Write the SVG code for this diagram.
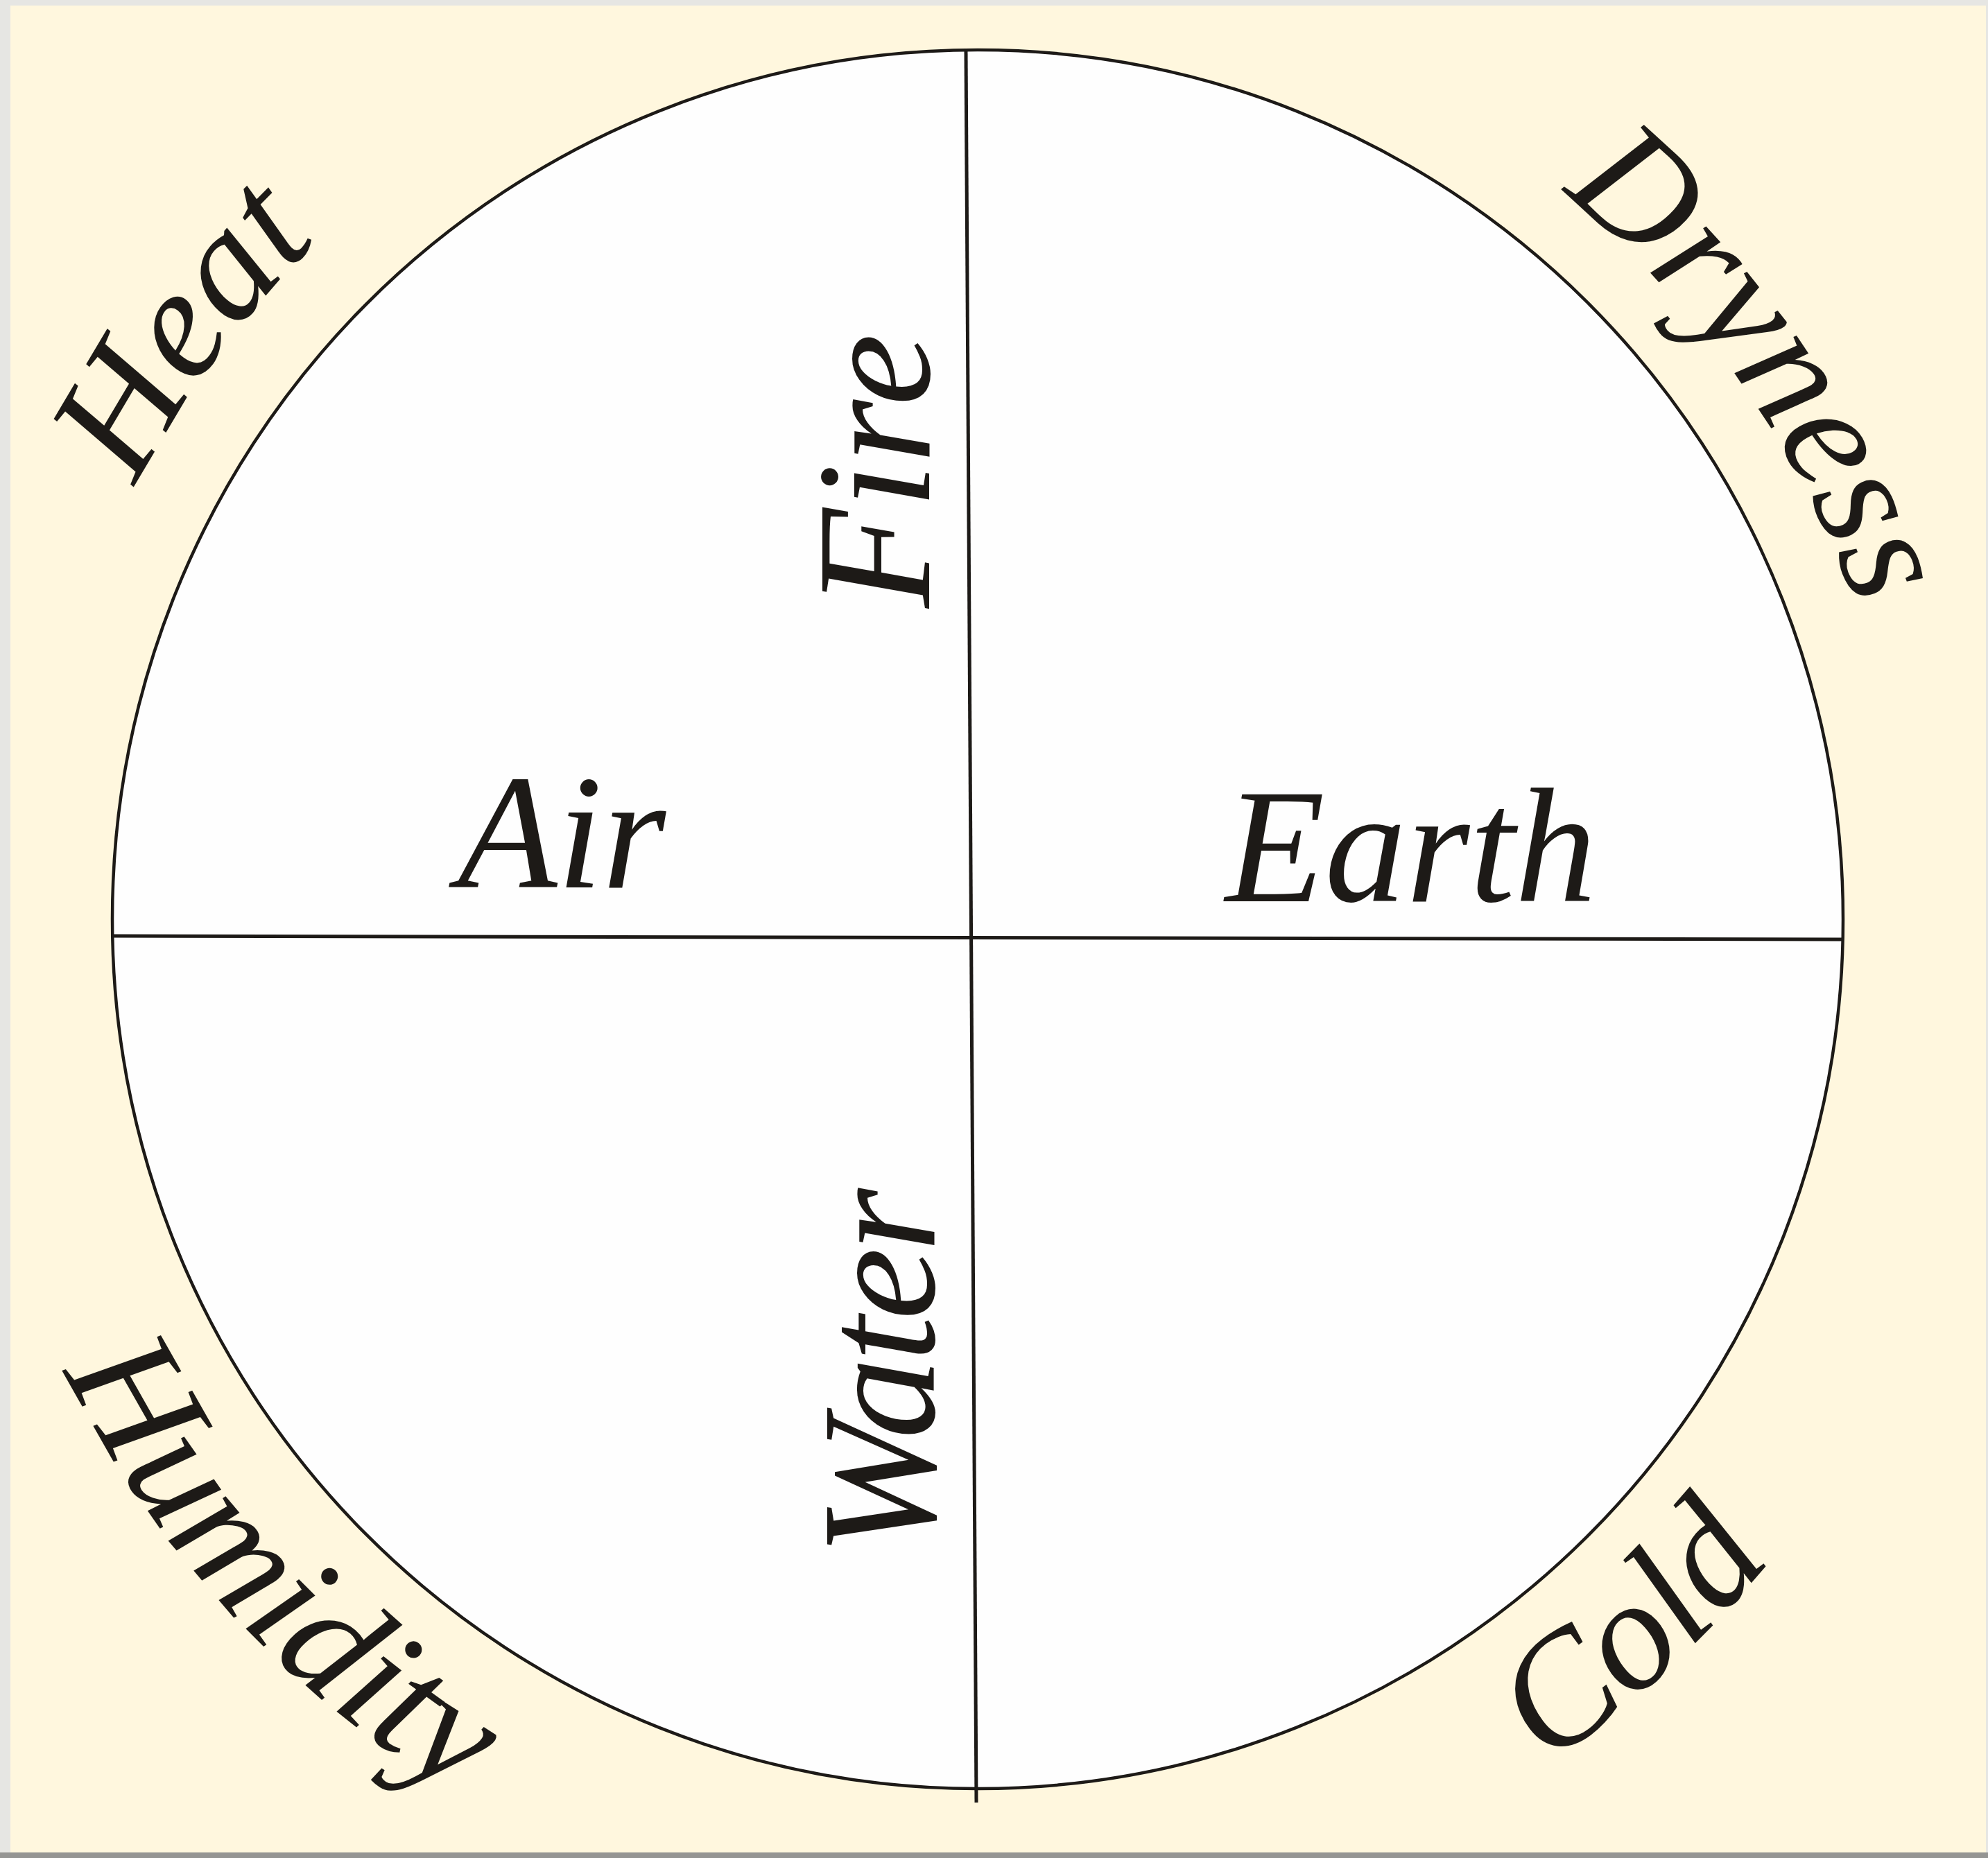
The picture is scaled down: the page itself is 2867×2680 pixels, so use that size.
<svg xmlns="http://www.w3.org/2000/svg" xmlns:xlink="http://www.w3.org/1999/xlink" width="2867" height="2680" viewBox="0 0 2867 2680">
<style>
.lbl{font-family:"Liberation Serif","Times New Roman",serif;font-style:italic;fill:#1d1a17;}
.inner{font-size:235px;}
.outer{font-size:228px;}
.line{stroke:#1d1a17;stroke-width:5;fill:none;stroke-linecap:butt;}
</style>
<defs>
<path id="arcTop" d="M 65,1326 A 1345 1345 0 0 1 2755,1326"/>
<path id="arcTopHeat" d="M 45,1326 A 1365 1365 0 0 1 2775,1326"/>
<path id="arcBottom" d="M -60,1326 A 1470 1470 0 0 0 2880,1326"/>
</defs>
<rect x="0" y="0" width="2867" height="2680" fill="#e6e6e3"/>
<rect x="15" y="8" width="2849" height="2664" fill="#fff7de"/>
<rect x="0" y="2672" width="2867" height="8" fill="#959593"/>
<g id="circle">
<ellipse cx="1410" cy="1326" rx="1248" ry="1254" fill="#fefefe" stroke="#1d1a17" stroke-width="4.5"/>
</g>
<g id="connectors">
<line class="line" x1="1393" y1="72" x2="1408" y2="2600"/>
<line class="line" x1="162" y1="1350" x2="2658" y2="1355"/>
</g>
<g id="air"><text class="lbl inner" x="660" y="1280">Air</text></g>
<g id="earth"><text class="lbl inner" x="1767" y="1300">Earth</text></g>
<g id="fire"><text class="lbl inner" transform="translate(1340,877) rotate(-90)" x="0" y="0">Fire</text></g>
<g id="water"><text class="lbl inner" transform="translate(1347,2244) rotate(-90)" x="0" y="0" textLength="530" lengthAdjust="spacing">Water</text></g>
<g id="heat"><text class="lbl outer" text-anchor="middle"><textPath xlink:href="#arcTopHeat" href="#arcTopHeat" startOffset="870">Heat</textPath></text></g>
<g id="dryness"><text class="lbl outer" text-anchor="middle"><textPath xlink:href="#arcTop" href="#arcTop" startOffset="3395">Dryness</textPath></text></g>
<g id="humidity"><text class="lbl outer" text-anchor="middle"><textPath xlink:href="#arcBottom" href="#arcBottom" startOffset="1100">Humidity</textPath></text></g>
<g id="cold"><text class="lbl outer" text-anchor="middle"><textPath xlink:href="#arcBottom" href="#arcBottom" startOffset="3400">Cold</textPath></text></g>
</svg>
